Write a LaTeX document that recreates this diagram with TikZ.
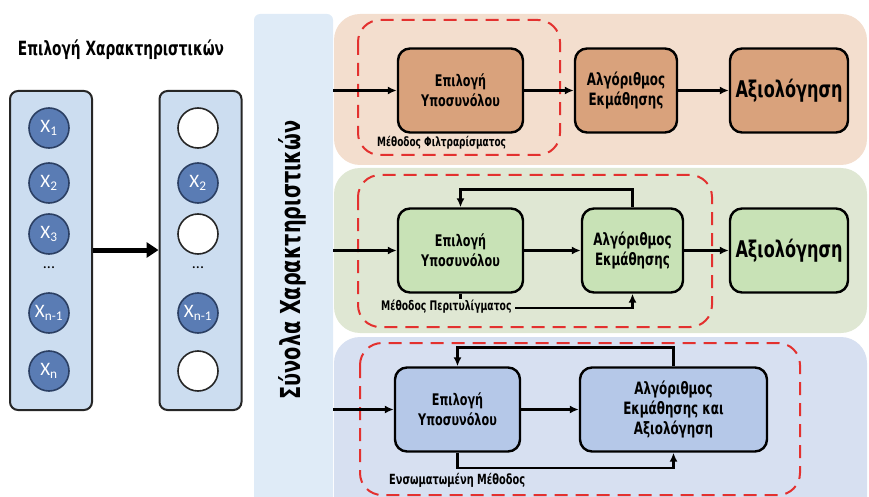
\documentclass[tikz,border=0pt]{standalone}
\usepackage{fontspec}
\setmainfont{Liberation Sans}
\newfontfamily\narrowfont{DejaVu Sans}[FakeStretch=0.7]
\newfontfamily\featfont{Carlito}
\usetikzlibrary{arrows.meta}
\definecolor{filterband}{HTML}{F3DECE}
\definecolor{filterbox}{HTML}{D9A27C}
\definecolor{wrapband}{HTML}{DFE7D3}
\definecolor{wrapbox}{HTML}{C8E2B6}
\definecolor{embedband}{HTML}{D7E0F1}
\definecolor{embedbox}{HTML}{B5C8E8}
\definecolor{setpanel}{HTML}{DFEBF7}
\definecolor{featpanel}{HTML}{CCDDF0}
\definecolor{featcircle}{HTML}{5A7CB4}
\definecolor{featborder}{HTML}{2B3F63}
\definecolor{methodred}{HTML}{E3312F}
\tikzset{
  stepbox/.style={draw, rounded corners=12pt, line width=2.4pt, align=center,
                  font=\narrowfont\bfseries\fontsize{16}{20}\selectfont,
                  inner sep=0pt, minimum height=84pt},
  learnbox/.style={stepbox, font=\narrowfont\bfseries\fontsize{17}{20}\selectfont},
  evalbox/.style={stepbox, font=\narrowfont\bfseries\fontsize{23}{25}\selectfont},
  band/.style={rounded corners=26pt},
  method/.style={draw=methodred, dash pattern=on 13pt off 8pt, line width=2pt,
                 rounded corners=22pt},
  flow/.style={-{Latex[length=9pt,width=8pt]}, line width=2.4pt},
  featbox/.style={draw=black!85, line width=2pt, fill=featpanel, rounded corners=8pt,
                  minimum width=82pt, minimum height=319pt},
  feat/.style={circle, draw=featborder, line width=1.6pt, fill=featcircle, text=white,
               minimum size=40pt, inner sep=0pt, font=\featfont\fontsize{19}{19}\selectfont},
  nofeat/.style={feat, fill=white, draw=black!85},
  featdots/.style={font=\featfont\fontsize{16}{16}\selectfont},
  methodlabel/.style={font=\narrowfont\bfseries\fontsize{12.8}{14}\selectfont,
                      anchor=west, inner sep=1pt},
}
\begin{document}
\begin{tikzpicture}[x=1pt, y=-1pt]
  \useasboundingbox (0,0) rectangle (869,497);
  % title and feature vectors
  \node[font=\narrowfont\bfseries\fontsize{19.6}{22}\selectfont] (title) at (121,50) {Επιλογή Χαρακτηριστικών};
  \node[featbox] (allset) at (51,250.5) {};
  \node[featbox] (subset) at (200.5,250.5) {};
  \node[feat] (x1) at (49,128) {X\textsubscript{1}};
  \node[feat] (x2) at (49,183) {X\textsubscript{2}};
  \node[feat] (x3) at (49,234) {X\textsubscript{3}};
  \node[featdots] (xdots) at (49,268) {...};
  \node[feat] (xm) at (49,313) {X\textsubscript{n-1}};
  \node[feat] (xn) at (49,371) {X\textsubscript{n}};
  \node[nofeat] (s1) at (198,128) {};
  \node[feat] (s2) at (198,183) {X\textsubscript{2}};
  \node[nofeat] (s3) at (198,234) {};
  \node[featdots] (sdots) at (198,268) {...};
  \node[feat] (sm) at (198,313) {X\textsubscript{n-1}};
  \node[nofeat] (sn) at (198,371) {};
  \draw[-{Triangle[length=12pt,width=15pt]}, line width=5pt] (allset.east |- 0,250) -- (subset.west |- 0,250);
  % background bands
  \fill[band, filterband] (334,14) rectangle (867,165);
  \fill[band, wrapband] (334,168) rectangle (867,333);
  \fill[band, embedband] (334,337) rectangle (867,530);
  \node[fill=setpanel, rounded corners=6pt, minimum width=79pt, minimum height=510pt] (sets) at (293.5,269) {};
  \node[rotate=90, font=\narrowfont\bfseries\fontsize{27.5}{30}\selectfont] (setlabel) at (292,260) {Σύνολα Χαρακτηριστικών};
  % filter method
  \draw[method] (358,20) rectangle (560,155);
  \node[stepbox, fill=filterbox, minimum width=125pt] (fsubset) at (460.5,90.5) {Επιλογή\\Υποσυνόλου};
  \node[learnbox, fill=filterbox, minimum width=102pt] (flearn) at (626,90.5) {Αλγόριθμος\\Εκμάθησης};
  \node[evalbox, fill=filterbox, minimum width=118pt] (feval) at (789,90.5) {Αξιολόγηση};
  \node[methodlabel] (flabel) at (376,143) {Μέθοδος Φιλτραρίσματος};
  \draw[flow] (sets.east |- fsubset.west) -- (fsubset.west);
  \draw[flow] (fsubset) -- (flearn);
  \draw[flow] (flearn) -- (feval);
  % wrapper method
  \draw[method] (358,175) rectangle (712,327);
  \node[stepbox, fill=wrapbox, minimum width=125pt] (wsubset) at (460.5,250.5) {Επιλογή\\Υποσυνόλου};
  \node[learnbox, fill=wrapbox, minimum width=101pt] (wlearn) at (632.5,250.5) {Αλγόριθμος\\Εκμάθησης};
  \node[evalbox, fill=wrapbox, minimum width=118pt] (weval) at (789,250.5) {Αξιολόγηση};
  \draw[flow] (sets.east |- wsubset.west) -- (wsubset.west);
  \draw[flow] (wsubset) -- (wlearn);
  \draw[flow] (wlearn) -- (weval);
  \draw[flow] (wlearn.north) -- ++(0,-18) -| (wsubset.north);
  \draw[flow] (wsubset.south) -- ++(0,14) -| (wlearn.south);
  \node[methodlabel, fill=wrapband, inner xsep=4pt, font=\narrowfont\bfseries\fontsize{13.2}{14}\selectfont] (wlabel) at (377,307) {Μέθοδος Περιτυλίγματος};
  % embedded method
  \draw[method] (360,343) rectangle (800,495);
  \node[learnbox, fill=embedbox, minimum width=187pt] (elearn) at (673.5,409.5) {Αλγόριθμος\\Εκμάθησης και\\Αξιολόγηση};
  \node[stepbox, fill=embedbox, minimum width=125pt] (esubset) at (457.5,409.5) {Επιλογή\\Υποσυνόλου};
  \draw[flow] (sets.east |- esubset.west) -- (esubset.west);
  \draw[flow] (esubset) -- (elearn);
  \draw[flow] (elearn.north) -- ++(0,-19) -| (esubset.north);
  \draw[flow] (esubset.south) -- ++(0,15) -| (elearn.south);
  \node[methodlabel, font=\narrowfont\bfseries\fontsize{14}{16}\selectfont] (elabel) at (388,480) {Ενσωματωμένη Μέθοδος};
\end{tikzpicture}
\end{document}
